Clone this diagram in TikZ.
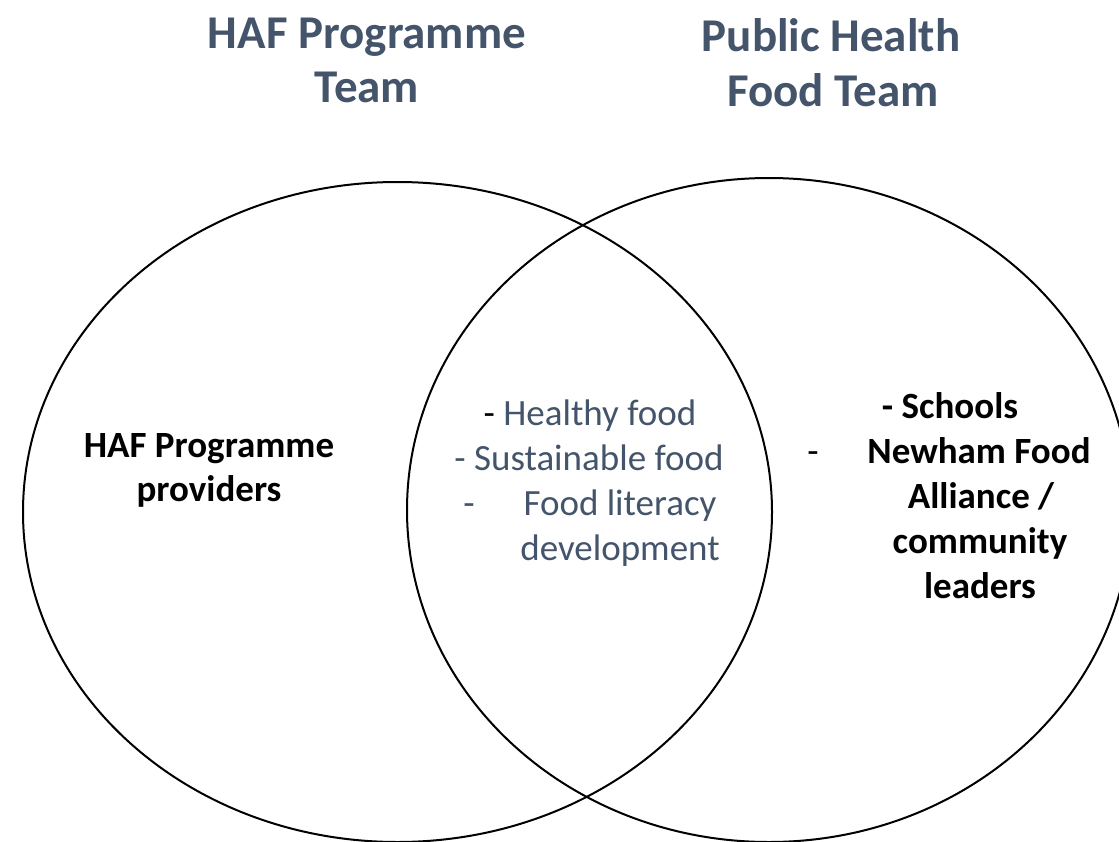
\documentclass[tikz,border=0pt]{standalone}
\usepackage{fontspec}
\setmainfont{Carlito}
\definecolor{slate}{HTML}{44546A}
\tikzset{
  ring/.style={draw=black, line width=2pt},
  titletext/.style={anchor=base, inner sep=0pt, text=slate, font=\fontsize{47}{55}\selectfont\bfseries},
  bodybold/.style={anchor=base, inner sep=0pt, text=black, font=\fontsize{37}{45}\selectfont\bfseries},
  bodyslate/.style={anchor=base, inner sep=0pt, text=slate, font=\fontsize{37}{45}\selectfont},
}
\begin{document}
\begin{tikzpicture}[x=1pt,y=-1pt]
\useasboundingbox (0,0) rectangle (1119,841);
\begin{scope}
\clip (0,0) rectangle (1119,841);
\draw[ring] (397.5,512) ellipse [x radius=374.5, y radius=330];
\draw[ring] (769,510) ellipse [x radius=362, y radius=332];
\end{scope}
% titles
\node[titletext] (t1a) at (367,48) {HAF Programme};
\node[titletext] (t1b) at (367,102) {Team};
\node[titletext] (t2a) at (831,51) {Public Health};
\node[titletext] (t2b) at (833,106) {Food Team};
% left
\node[bodybold] (l1) at (209,457) {HAF Programme};
\node[bodybold] (l2) at (209,501) {providers};
% centre
\node[bodyslate] (c1) at (590,425) {\textcolor{black}{-} Healthy food};
\node[bodyslate] (c2) at (589,470) {- Sustainable food};
\node[bodyslate] (c3d) at (469,515) {-};
\node[bodyslate] (c3) at (620,515) {Food literacy};
\node[bodyslate] (c4) at (620,560) {development};
% right
\node[bodybold] (r1) at (950,418) {- Schools};
\node[bodyslate, text=black] (r2d) at (813,463) {-};
\node[bodybold] (r2) at (979,463) {Newham Food};
\node[bodybold] (r3) at (981,508) {Alliance /};
\node[bodybold] (r4) at (980,553) {community};
\node[bodybold] (r5) at (980,598) {leaders};
\end{tikzpicture}
\end{document}
